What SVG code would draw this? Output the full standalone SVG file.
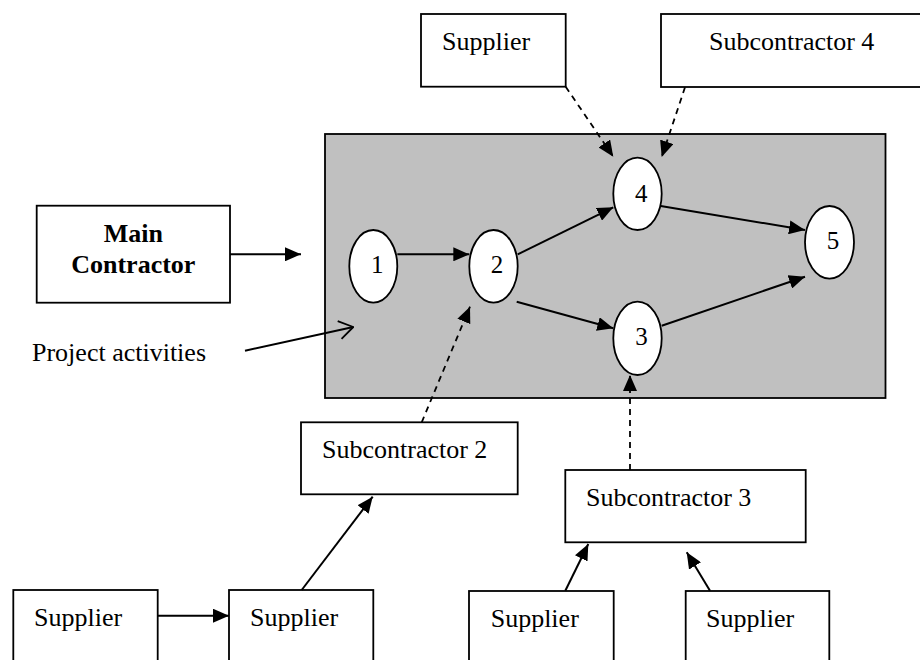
<svg xmlns="http://www.w3.org/2000/svg" width="920" height="660" viewBox="0 0 920 660">
<style>
.box{fill:#fff;stroke:#000;stroke-width:1.8}
.ev{fill:#fff;stroke:#000;stroke-width:1.8}
.t{font-family:"Liberation Serif","Times New Roman",serif;font-size:26px;fill:#000}
.b{font-weight:bold}
.d{font-family:"Liberation Serif","Times New Roman",serif;font-size:25px;fill:#000;text-anchor:middle}
.ln{fill:none;stroke:#000;stroke-width:2}
.ds{fill:none;stroke:#000;stroke-width:1.8;stroke-dasharray:6 5}
</style>
<defs>
<marker id="ah" viewBox="0 0 16 14" refX="16" refY="7" markerWidth="16" markerHeight="14" markerUnits="userSpaceOnUse" orient="auto">
<path d="M0,0 L16,7 L0,14 Z" fill="#000"/>
</marker>
<marker id="oa" viewBox="0 0 16 22" refX="15" refY="11" markerWidth="16" markerHeight="22" markerUnits="userSpaceOnUse" orient="auto">
<path d="M1,2 L15,11 L1,20" fill="none" stroke="#000" stroke-width="1.8"/>
</marker>
</defs>
<rect width="920" height="660" fill="#fff"/>
<g id="project-activities">
<rect x="325" y="134" width="560.5" height="264" fill="#c0c0c0" stroke="#000" stroke-width="1.8"/>
</g>
<g id="main-contractor">
<rect class="box" x="36.7" y="205.7" width="193.3" height="97"/>
<text class="t b" x="133.3" y="241.7" text-anchor="middle">Main</text>
<text class="t b" x="133.3" y="272.7" text-anchor="middle">Contractor</text>
</g>
<g id="label-project">
<text class="t" x="32" y="360.7">Project activities</text>
</g>
<g id="supplier-top">
<rect class="box" x="421" y="14" width="144.7" height="72.7"/>
<text class="t" x="442" y="50">Supplier</text>
</g>
<g id="subcontractor-4">
<rect class="box" x="661" y="14" width="270" height="73"/>
<text class="t" x="709" y="50">Subcontractor 4</text>
</g>
<g id="subcontractor-2">
<rect class="box" x="301" y="422.3" width="216.7" height="72"/>
<text class="t" x="322" y="458.3">Subcontractor 2</text>
</g>
<g id="subcontractor-3">
<rect class="box" x="565.3" y="470" width="240.4" height="72.3"/>
<text class="t" x="586" y="506">Subcontractor 3</text>
</g>
<g id="supplier-a">
<rect class="box" x="13.3" y="590" width="144.4" height="90"/>
<text class="t" x="34" y="625.7">Supplier</text>
</g>
<g id="supplier-b">
<rect class="box" x="229" y="590" width="144.3" height="90"/>
<text class="t" x="250" y="625.7">Supplier</text>
</g>
<g id="supplier-c">
<rect class="box" x="469" y="591" width="144.7" height="90"/>
<text class="t" x="490.7" y="626.7">Supplier</text>
</g>
<g id="supplier-d">
<rect class="box" x="685.7" y="591" width="143.6" height="90"/>
<text class="t" x="706" y="626.7">Supplier</text>
</g>
<g id="node-1">
<ellipse class="ev" cx="373.3" cy="266.3" rx="24" ry="36.3"/>
<text class="d" x="377.3" y="273.3">1</text>
</g>
<g id="node-2">
<ellipse class="ev" cx="493.5" cy="266.3" rx="24.2" ry="36.3"/>
<text class="d" x="497" y="273.3">2</text>
</g>
<g id="node-4">
<ellipse class="ev" cx="637.5" cy="193.8" rx="24.2" ry="36.2"/>
<text class="d" x="641.3" y="201.7">4</text>
</g>
<g id="node-3">
<ellipse class="ev" cx="637.5" cy="338.3" rx="24.2" ry="36.7"/>
<text class="d" x="641.5" y="345">3</text>
</g>
<g id="node-5">
<ellipse class="ev" cx="829.5" cy="242.3" rx="24.5" ry="36.3"/>
<text class="d" x="833" y="249.3">5</text>
</g>
<g id="connectors">
<line class="ln" x1="230" y1="254.3" x2="301" y2="254.3" marker-end="url(#ah)"/>
<line class="ln" x1="245" y1="350.7" x2="353.3" y2="327" marker-end="url(#oa)"/>
<line class="ln" x1="397.3" y1="254.3" x2="469.3" y2="254.3" marker-end="url(#ah)"/>
<line class="ln" x1="517.7" y1="254.3" x2="613.3" y2="207.3" marker-end="url(#ah)"/>
<line class="ln" x1="516.7" y1="301.7" x2="613.3" y2="328.3" marker-end="url(#ah)"/>
<line class="ln" x1="660.7" y1="206" x2="805" y2="230" marker-end="url(#ah)"/>
<line class="ln" x1="661.7" y1="325.7" x2="805" y2="276.7" marker-end="url(#ah)"/>
<line class="ds" x1="565.7" y1="86.7" x2="613.3" y2="156.7" marker-end="url(#ah)"/>
<line class="ds" x1="685" y1="87.3" x2="661.7" y2="157" marker-end="url(#ah)"/>
<line class="ds" x1="421.7" y1="422.3" x2="470" y2="306.7" marker-end="url(#ah)"/>
<line class="ds" x1="630" y1="470" x2="630" y2="375" marker-end="url(#ah)"/>
<line class="ln" x1="157.7" y1="615.7" x2="229" y2="615.7" marker-end="url(#ah)"/>
<line class="ln" x1="301.7" y1="590" x2="372.7" y2="496.7" marker-end="url(#ah)"/>
<line class="ln" x1="565.3" y1="590.7" x2="588.3" y2="544" marker-end="url(#ah)"/>
<line class="ln" x1="710" y1="590.7" x2="686.7" y2="552.3" marker-end="url(#ah)"/>
</g>
</svg>
